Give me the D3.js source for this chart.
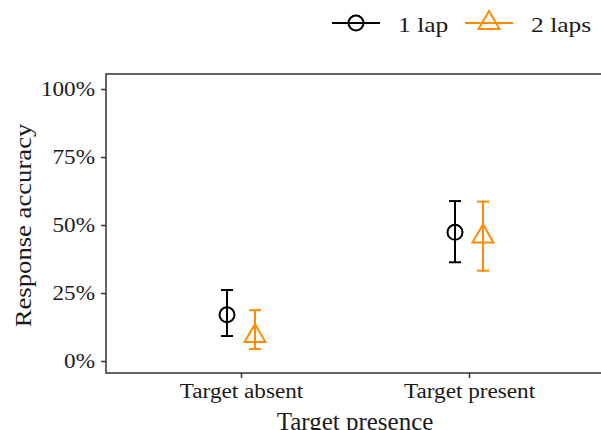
<!DOCTYPE html>
<html>
<head>
<meta charset="utf-8">
<script src="https://cdn.jsdelivr.net/npm/d3@7"></script>
<style>
  body { margin: 0; background: #fff; }
  text { font-family: "Liberation Serif", "DejaVu Serif", serif; fill: #1a1a1a; }
</style>
</head>
<body>
<svg width="601" height="430"></svg>
<script>
const categories = ['Target absent', 'Target present']
const laps = ['1 lap', '2 laps']
const colors = ['#000000', '#ff8c00']

// mean, lower, upper per lap, one value per category
const mean1 = [0.170, 0.473]
const lower1 = [0.092, 0.363]
const upper1 = [0.261, 0.588]
const mean2 = [0.092, 0.458]
const lower2 = [0.044, 0.332]
const upper2 = [0.187, 0.586]

const yTicks = [0, 0.25, 0.5, 0.75, 1]

const rows = []
categories.forEach((c, i) => {
  rows.push({ cat: c, lap: laps[0], mean: mean1[i], lo: lower1[i], hi: upper1[i] })
  rows.push({ cat: c, lap: laps[1], mean: mean2[i], lo: lower2[i], hi: upper2[i] })
})

// the source picture is a little wider than tall, so text is stretched
const SX = 1.16

const svg = d3.select('svg')
const panel = { left: 106, right: 604, top: 74, bottom: 373 }

const x = d3.scalePoint().domain(categories).range([241, 469])
const dodge = d3.scaleBand().domain(laps).range([-28, 28]).padding(0)
const y = d3.scaleLinear().domain([0, 1]).range([361, 89])
const color = d3.scaleOrdinal().domain(laps).range(colors)

svg.append('rect')
  .attr('x', panel.left).attr('y', panel.top)
  .attr('width', panel.right - panel.left).attr('height', panel.bottom - panel.top)
  .attr('fill', 'none').attr('stroke', '#333').attr('stroke-width', 1.5)

const yAxis = svg.append('g')
  .attr('transform', 'translate(' + panel.left + ',0)')
  .call(d3.axisLeft(y).tickValues(yTicks).tickFormat(d3.format('.0%')).tickSize(5).tickPadding(5))
yAxis.select('.domain').remove()
yAxis.selectAll('line').attr('stroke', '#333').attr('stroke-width', 1.5)
yAxis.selectAll('text').attr('font-size', 20).attr('fill', '#333')
  .attr('font-family', '"Liberation Serif", serif').attr('dy', '0.34em')
  .attr('x', -11 / SX).attr('transform', 'scale(' + SX + ',1)')

const xAxis = svg.append('g')
  .attr('transform', 'translate(0,' + panel.bottom + ')')
  .call(d3.axisBottom(x).tickSize(5).tickPadding(6))
xAxis.select('.domain').remove()
xAxis.selectAll('line').attr('stroke', '#333').attr('stroke-width', 1.5)
xAxis.selectAll('text').attr('font-size', 20).attr('fill', '#333')
  .attr('font-family', '"Liberation Serif", serif')
  .attr('transform', 'scale(' + SX + ',1)')

svg.append('text')
  .attr('transform', 'translate(' + (panel.left + panel.right) / 2 + ',430)')
  .attr('text-anchor', 'middle').attr('font-size', 25)
  .text('Target presence')

svg.append('text')
  .attr('transform', 'translate(31,' + ((panel.top + panel.bottom) / 2 + 2) + ') rotate(-90) scale(' + SX + ',1)')
  .attr('text-anchor', 'middle').attr('font-size', 23)
  .text('Response accuracy')

const px = d => x(d.cat) + dodge(d.lap) + dodge.bandwidth() / 2

const g = svg.append('g')
const pts = g.selectAll('g.pt').data(rows).enter().append('g').attr('class', 'pt')
  .attr('stroke', d => color(d.lap)).attr('stroke-width', 2).attr('fill', 'none')

pts.append('line')
  .attr('x1', px).attr('x2', px)
  .attr('y1', d => y(d.lo)).attr('y2', d => y(d.hi))
pts.append('line')
  .attr('x1', d => px(d) - 6).attr('x2', d => px(d) + 6)
  .attr('y1', d => y(d.lo)).attr('y2', d => y(d.lo))
pts.append('line')
  .attr('x1', d => px(d) - 6).attr('x2', d => px(d) + 6)
  .attr('y1', d => y(d.hi)).attr('y2', d => y(d.hi))

const circleSym = d3.symbol().type(d3.symbolCircle).size(Math.PI * 7.5 * 7.5)
const triSym = d3.symbol().type(d3.symbolTriangle).size(190)

pts.append('path')
  .attr('transform', d => 'translate(' + px(d) + ',' + y(d.mean) + ')')
  .attr('d', d => d.lap === laps[0] ? circleSym() : triSym())

// legend
const legend = svg.append('g')
const legX = [332, 465]
laps.forEach((l, i) => {
  const lg = legend.append('g').attr('transform', 'translate(' + legX[i] + ',23)')
  lg.append('line').attr('x1', 0).attr('x2', 48).attr('y1', 0).attr('y2', 0)
    .attr('stroke', color(l)).attr('stroke-width', 2)
  lg.append('path').attr('transform', 'translate(24,0)')
    .attr('d', i === 0 ? circleSym() : triSym())
    .attr('fill', 'none').attr('stroke', color(l)).attr('stroke-width', 2)
  lg.append('text').attr('transform', 'translate(66,9) scale(' + SX + ',1)')
    .attr('font-size', 22).text(l)
})
</script>
</body>
</html>
